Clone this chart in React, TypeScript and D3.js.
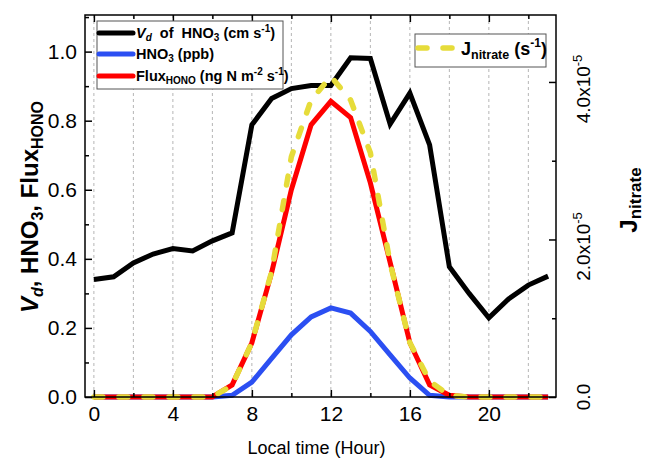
import React, { useEffect, useRef } from 'react';
import * as d3 from 'd3';

// hourly means
const hours = d3.range(0, 24);
const vd = [0.34, 0.348, 0.388, 0.414, 0.43, 0.423, 0.452, 0.475, 0.788, 0.864, 0.893, 0.902,
  0.902, 0.982, 0.98, 0.79, 0.88, 0.73, 0.377, 0.3, 0.229, 0.284, 0.324, 0.35];
const hno3 = [0, 0, 0, 0, 0, 0, 0, 0.005, 0.043, 0.112, 0.18, 0.232,
  0.258, 0.243, 0.19, 0.122, 0.055, 0.005, 0, 0, 0, 0, 0, 0];
const flux = [0, 0, 0, 0, 0, 0, 0, 0.035, 0.157, 0.36, 0.6, 0.788,
  0.856, 0.809, 0.62, 0.39, 0.157, 0.035, 0.005, 0, 0, 0, 0, 0];
const jnitrate = [0, 0, 0, 0, 0, 0, 0, 0.15e-5, 0.69e-5, 1.59e-5, 3.05e-5, 3.77e-5,
  4.07e-5, 3.77e-5, 3.1e-5, 1.7e-5, 0.69e-5, 0.2e-5, 0.02e-5, 0, 0, 0, 0, 0];

const xMajor = [0, 4, 8, 12, 16, 20];
const xMinor = [2, 6, 10, 14, 18, 22];
const xGrid = d3.range(0, 24, 2);
const leftMajor = [0, 0.2, 0.4, 0.6, 0.8, 1.0];
const leftMinor = [0.1, 0.3, 0.5, 0.7, 0.9, 1.1];
const rightMajor = [0, 2e-5, 4e-5];
const rightMinor = [1e-5, 3e-5];

const FONT = 'Liberation Sans, Arial, sans-serif';

const App = () => {
  const ref = useRef<SVGSVGElement>(null);

  useEffect(() => {
    const W = 646, H = 458;
    const m = { left: 85, right: 556, top: 15, bottom: 397 };

    const x = d3.scaleLinear().domain([-0.45, 23.4]).range([m.left, m.right]);
    const yL = d3.scaleLinear().domain([0, 1.106]).range([m.bottom, m.top]);
    const yR = d3.scaleLinear().domain([0, 4.85e-5]).range([m.bottom, m.top]);

    const svg = d3.select(ref.current);
    svg.selectAll('*').remove();
    svg.attr('width', W).attr('height', H);
    svg.append('rect').attr('width', W).attr('height', H).attr('fill', '#fff');

    // dashed vertical grid
    svg.append('g').selectAll('line').data(xGrid).enter().append('line')
      .attr('x1', d => x(d)).attr('x2', d => x(d))
      .attr('y1', m.top).attr('y2', m.bottom)
      .attr('stroke', '#b5b5b5').attr('stroke-width', 1).attr('stroke-dasharray', '3,3');

    // series
    const lineL = (vals: number[]) => d3.line<number>().x((_, i) => x(hours[i])).y(d => yL(d))(vals);
    const lineR = d3.line<number>().x((_, i) => x(hours[i])).y(d => yR(d));

    const plot = svg.append('g');
    plot.append('path').attr('d', lineL(vd)).attr('fill', 'none').attr('stroke', '#000')
      .attr('stroke-width', 5).attr('stroke-linejoin', 'miter');
    plot.append('path').attr('d', lineL(hno3)).attr('fill', 'none').attr('stroke', '#2b4ff2')
      .attr('stroke-width', 5);
    plot.append('path').attr('d', lineL(flux)).attr('fill', 'none').attr('stroke', '#ff0000')
      .attr('stroke-width', 5);
    plot.append('path').attr('d', lineR(jnitrate)).attr('fill', 'none').attr('stroke', '#e6dc3a')
      .attr('stroke-width', 5.5).attr('stroke-dasharray', '9,16').attr('stroke-linecap', 'round');

    // axes, ticks pointing inward
    const styleAxis = (g: any) => {
      g.select('.domain').remove();
      g.selectAll('line').attr('stroke', '#000').attr('stroke-width', 1.5);
      g.selectAll('text').attr('font-family', FONT).attr('font-size', 21).attr('fill', '#000');
    };
    svg.append('g').attr('transform', `translate(0,${m.bottom})`)
      .call(d3.axisBottom(x).tickValues(xMajor).tickSize(-7).tickSizeOuter(0).tickPadding(9).tickFormat(d3.format('d')))
      .call(styleAxis);
    svg.append('g').attr('transform', `translate(0,${m.bottom})`)
      .call(d3.axisBottom(x).tickValues(xMinor).tickSize(-4).tickSizeOuter(0).tickFormat(() => ''))
      .call(styleAxis);
    svg.append('g').attr('transform', `translate(0,${m.top})`)
      .call(d3.axisTop(x).tickValues(xMajor).tickSize(-7).tickSizeOuter(0).tickFormat(() => ''))
      .call(styleAxis);
    svg.append('g').attr('transform', `translate(0,${m.top})`)
      .call(d3.axisTop(x).tickValues(xMinor).tickSize(-4).tickSizeOuter(0).tickFormat(() => ''))
      .call(styleAxis);
    svg.append('g').attr('transform', `translate(${m.left},0)`)
      .call(d3.axisLeft(yL).tickValues(leftMajor).tickSize(-7).tickSizeOuter(0).tickPadding(8).tickFormat(d3.format('.1f')))
      .call(styleAxis);
    svg.append('g').attr('transform', `translate(${m.left},0)`)
      .call(d3.axisLeft(yL).tickValues(leftMinor).tickSize(-4).tickSizeOuter(0).tickFormat(() => ''))
      .call(styleAxis);
    svg.append('g').attr('transform', `translate(${m.right},0)`)
      .call(d3.axisRight(yR).tickValues(rightMajor).tickSize(-7).tickSizeOuter(0).tickFormat(() => ''))
      .call(styleAxis);
    svg.append('g').attr('transform', `translate(${m.right},0)`)
      .call(d3.axisRight(yR).tickValues(rightMinor).tickSize(-4).tickSizeOuter(0).tickFormat(() => ''))
      .call(styleAxis);

    // right tick labels, rotated
    rightMajor.forEach(v => {
      const t = svg.append('text')
        .attr('transform', `translate(590,${yR(v) + (v === 0 ? 0 : 7)}) rotate(-90)`)
        .attr('text-anchor', 'middle').attr('font-family', FONT).attr('font-size', 19);
      if (v === 0) {
        t.text('0.0');
      } else {
        t.append('tspan').text(`${(v * 1e5).toFixed(1)}x10`);
        t.append('tspan').attr('dy', -8).attr('font-size', 13).text('-5');
      }
    });

    // frame
    svg.append('rect').attr('x', m.left).attr('y', m.top)
      .attr('width', m.right - m.left).attr('height', m.bottom - m.top)
      .attr('fill', 'none').attr('stroke', '#000').attr('stroke-width', 1.5);

    // axis titles
    svg.append('text').attr('x', (m.left + m.right) / 2 - 4).attr('y', 454)
      .attr('text-anchor', 'middle').attr('font-family', FONT).attr('font-size', 18)
      .text('Local time (Hour)');

    const lt = svg.append('text').attr('transform', 'translate(38,207) rotate(-90)')
      .attr('text-anchor', 'middle').attr('font-family', FONT).attr('font-size', 24)
      .attr('font-weight', 'bold');
    lt.append('tspan').attr('font-style', 'italic').text('V');
    lt.append('tspan').attr('font-style', 'italic').attr('font-size', 16).attr('dy', 5).text('d');
    lt.append('tspan').attr('dy', -5).text(',  HNO');
    lt.append('tspan').attr('font-size', 16).attr('dy', 5).text('3');
    lt.append('tspan').attr('dy', -5).text(',  Flux');
    lt.append('tspan').attr('font-size', 16).attr('dy', 5).text('HONO');

    const rt = svg.append('text').attr('transform', 'translate(637,200) rotate(-90)')
      .attr('text-anchor', 'middle').attr('font-family', FONT).attr('font-size', 24)
      .attr('font-weight', 'bold');
    rt.append('tspan').text('J');
    rt.append('tspan').attr('font-size', 17).attr('dy', 4).text('nitrate');

    // legend 1
    const lg = svg.append('g');
    lg.append('rect').attr('x', 97).attr('y', 21).attr('width', 186).attr('height', 68)
      .attr('fill', '#fff').attr('stroke', '#555').attr('stroke-width', 1);
    const rows = [
      { color: '#000', y: 33 },
      { color: '#2b4ff2', y: 54 },
      { color: '#ff0000', y: 76 },
    ];
    rows.forEach(r => {
      lg.append('line').attr('x1', 99).attr('x2', 133).attr('y1', r.y).attr('y2', r.y)
        .attr('stroke', r.color).attr('stroke-width', 5).attr('stroke-linecap', 'round');
    });
    const txt = (y: number) => lg.append('text').attr('x', 136).attr('y', y)
      .attr('font-family', FONT).attr('font-size', 14.5).attr('font-weight', 'bold');
    const t1 = txt(38);
    t1.append('tspan').attr('font-style', 'italic').text('V');
    t1.append('tspan').attr('font-style', 'italic').attr('font-size', 10).attr('dy', 3).text('d');
    t1.append('tspan').attr('dy', -3).text('\u00a0 of\u00a0 HNO');
    t1.append('tspan').attr('font-size', 10).attr('dy', 3).text('3');
    t1.append('tspan').attr('dy', -3).text(' (cm s');
    t1.append('tspan').attr('font-size', 10).attr('dy', -6).text('-1');
    t1.append('tspan').attr('dy', 6).text(')');
    const t2 = txt(59);
    t2.append('tspan').text('HNO');
    t2.append('tspan').attr('font-size', 10).attr('dy', 3).text('3');
    t2.append('tspan').attr('dy', -3).text(' (ppb)');
    const t3 = txt(81);
    t3.append('tspan').text('Flux');
    t3.append('tspan').attr('font-size', 10).attr('dy', 3).text('HONO');
    t3.append('tspan').attr('dy', -3).text(' (ng N m');
    t3.append('tspan').attr('font-size', 10).attr('dy', -6).text('-2');
    t3.append('tspan').attr('dy', 6).text(' s');
    t3.append('tspan').attr('font-size', 10).attr('dy', -6).text('-1');
    t3.append('tspan').attr('dy', 6).text(')');

    // legend 2
    const lg2 = svg.append('g');
    lg2.append('rect').attr('x', 415).attr('y', 34).attr('width', 131).attr('height', 33)
      .attr('fill', '#fff').attr('stroke', '#555').attr('stroke-width', 1);
    lg2.append('line').attr('x1', 418).attr('x2', 456).attr('y1', 48).attr('y2', 48)
      .attr('stroke', '#e6dc3a').attr('stroke-width', 5.5).attr('stroke-dasharray', '9,16')
      .attr('stroke-linecap', 'round');
    const t4 = lg2.append('text').attr('x', 461).attr('y', 55)
      .attr('font-family', FONT).attr('font-size', 18).attr('font-weight', 'bold');
    t4.append('tspan').text('J');
    t4.append('tspan').attr('font-size', 12.5).attr('dy', 4).text('nitrate');
    t4.append('tspan').attr('dy', -4).text(' (s');
    t4.append('tspan').attr('font-size', 12).attr('dy', -8).text('-1');
    t4.append('tspan').attr('dy', 8).text(')');
  }, []);

  return (
    <svg ref={ref} style={{ position: 'absolute', left: 0, top: 0, display: 'block' }} />
  );
};

export default App;
